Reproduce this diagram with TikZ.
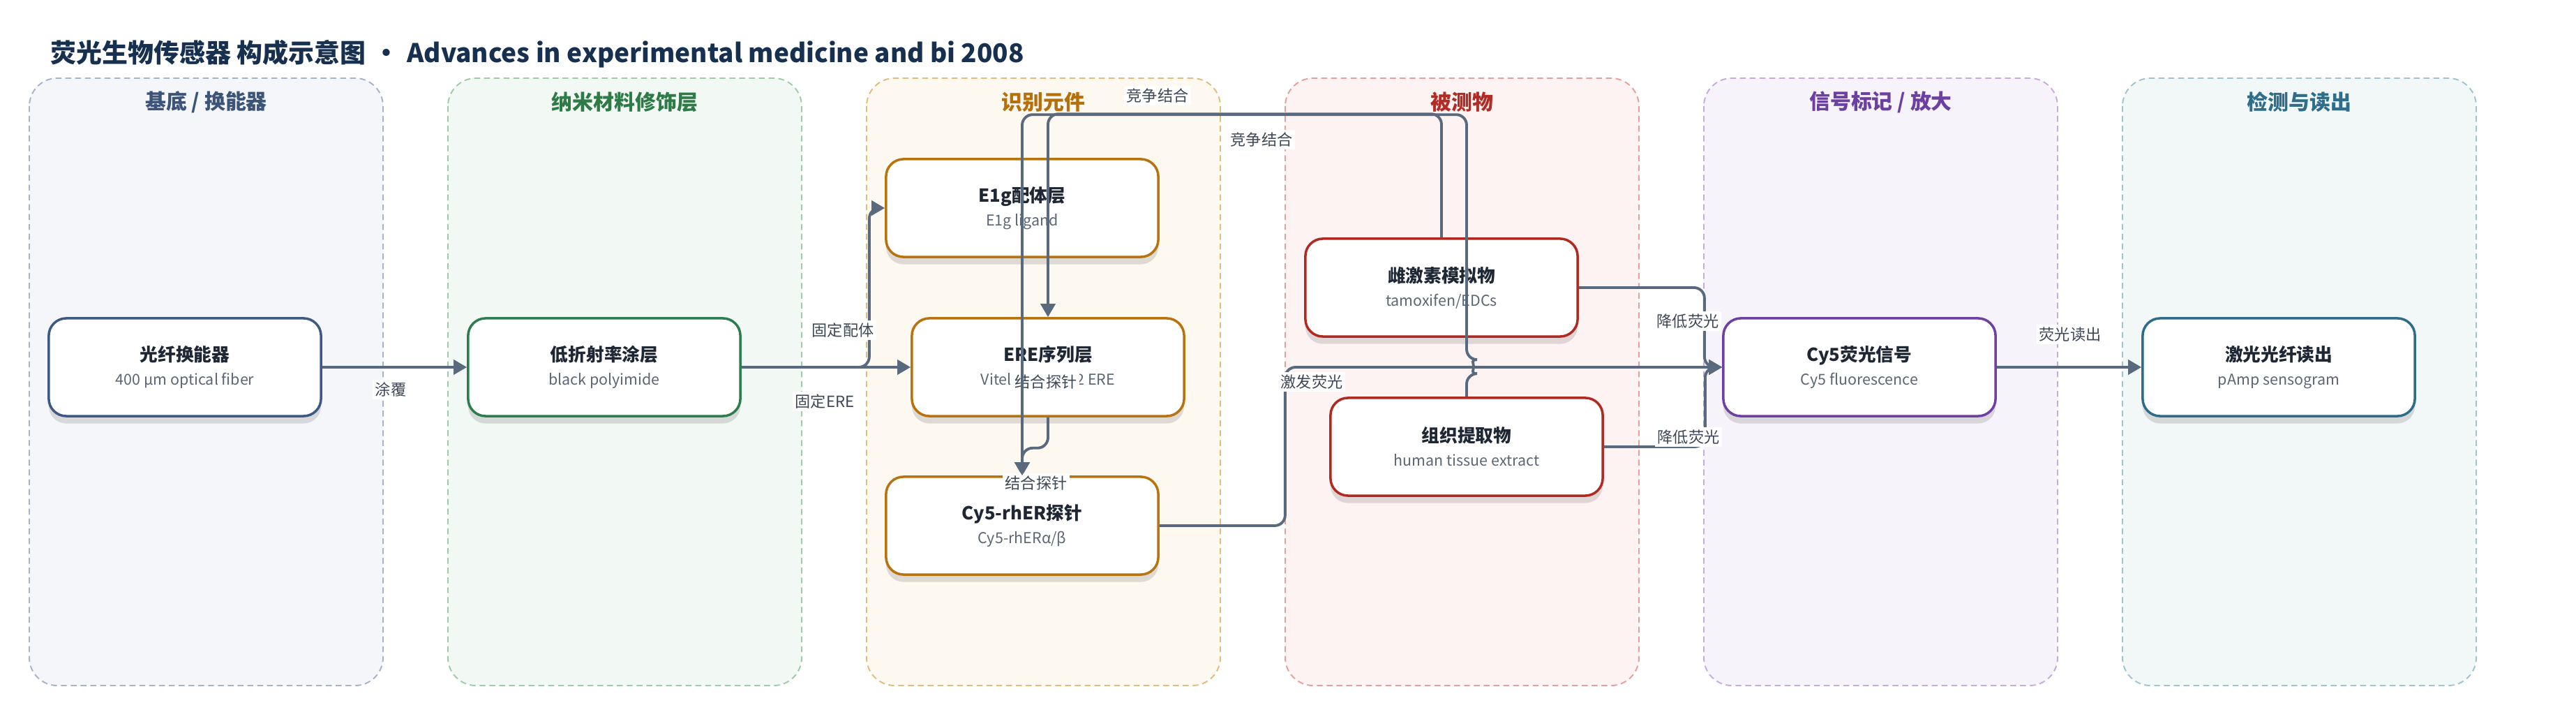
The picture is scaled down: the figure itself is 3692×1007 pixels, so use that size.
\documentclass[tikz,border=0pt]{standalone}
\usepackage{fontspec}
\setmainfont{Noto Sans CJK SC}
\usepackage{tikz}
\usetikzlibrary{arrows.meta,shadows,calc}

% Farben der Spalten
\definecolor{aBg}{HTML}{F4F6FA}\definecolor{aRand}{HTML}{A7B3C8}\definecolor{aTitel}{HTML}{3D5479}\definecolor{aKante}{HTML}{3E5A82}
\definecolor{bBg}{HTML}{F2F8F3}\definecolor{bRand}{HTML}{9FCBAA}\definecolor{bTitel}{HTML}{2E7B48}\definecolor{bKante}{HTML}{2E7D4F}
\definecolor{cBg}{HTML}{FDF8F0}\definecolor{cRand}{HTML}{E2BC7A}\definecolor{cTitel}{HTML}{B5700B}\definecolor{cKante}{HTML}{B7730F}
\definecolor{dBg}{HTML}{FDF3F2}\definecolor{dRand}{HTML}{E59F9C}\definecolor{dTitel}{HTML}{B22B25}\definecolor{dKante}{HTML}{B02A22}
\definecolor{eBg}{HTML}{F6F3FA}\definecolor{eRand}{HTML}{C6ACDD}\definecolor{eTitel}{HTML}{6B40A0}\definecolor{eKante}{HTML}{6D40A2}
\definecolor{fBg}{HTML}{F2F7F8}\definecolor{fRand}{HTML}{A2C3CD}\definecolor{fTitel}{HTML}{2F6E8A}\definecolor{fKante}{HTML}{2F6C88}
\definecolor{pfeil}{HTML}{5A6A7E}
\definecolor{lbltext}{HTML}{3E4756}
\definecolor{boxtext}{HTML}{1E2733}
\definecolor{subtext}{HTML}{5C6675}
\definecolor{haupttitel}{HTML}{17304F}

\tikzset{
	box/.style={rectangle, fill=white, rounded corners=0.25cm, line width=1pt,
		minimum width=3.9cm, minimum height=1.4cm, align=center, text=boxtext,
		font=\fontsize{7.3}{9.7}\selectfont,
		drop shadow={shadow xshift=0pt, shadow yshift=-3pt, opacity=0.12, fill=black}},
	conn/.style={draw=pfeil, line width=1.1pt, rounded corners=0.15cm,
		-{Triangle[length=0.19cm, width=0.21cm]}},
	lbl/.style={fill=white, inner sep=1pt, text=lbltext, font=\fontsize{6.3}{7}\selectfont},
}
\newcommand{\zweiz}[2]{{\bfseries #1}\\{\color{subtext}\fontsize{6.1}{9.7}\selectfont #2}}

\begin{document}
\begin{tikzpicture}[x=0.01cm, y=-0.01cm]
	\useasboundingbox (0,0) rectangle (3692,1007); % Rand
	
	\node[anchor=west, inner sep=0, text=haupttitel, font=\bfseries\fontsize{10.5}{13}\selectfont] (titel) at (72,77)
		{荧光生物传感器 构成示意图\hspace{0.3em}•\hspace{0.3em}Advances in experimental medicine and bi 2008};
	
	% Spalten
	\foreach \i/\col/\nm in {0/a/{基底 / 换能器}, 1/b/纳米材料修饰层, 2/c/识别元件, 3/d/被测物, 4/e/{信号标记 / 放大}, 5/f/检测与读出} {
		\draw[fill=\col Bg, draw=\col Rand, line width=0.55pt, dash pattern=on 2.4pt off 1.6pt, rounded corners=0.4cm]
			({42+600*\i},112) rectangle ++(507,870);
		\node[text=\col Titel, font=\bfseries\fontsize{8.5}{10}\selectfont] (spalte\i) at ({295.5+600*\i},146) {\nm};
	}
	
	% Kaesten
	\node[box, draw=aKante] (faser) at (265,526) {\zweiz{光纤换能器}{400 µm optical fiber}};
	\node[box, draw=bKante] (poly) at (866,526) {\zweiz{低折射率涂层}{black polyimide}};
	\node[box, draw=cKante] (e1g) at (1465,298) {\zweiz{E1g配体层}{E1g ligand}};
	\node[box, draw=cKante] (ere) at (1502,526) {\zweiz{ERE序列层}{Vitellogenin A2 ERE}};
	\node[box, draw=cKante] (sonde) at (1465,753) {\zweiz{Cy5-rhER探针}{Cy5-rhERα/β}};
	\node[box, draw=dKante] (oestro) at (2066,412) {\zweiz{雌激素模拟物}{tamoxifen/EDCs}};
	\node[box, draw=dKante] (gewebe) at (2102,640) {\zweiz{组织提取物}{human tissue extract}};
	\node[box, draw=eKante] (cysig) at (2665,526) {\zweiz{Cy5荧光信号}{Cy5 fluorescence}};
	\node[box, draw=fKante] (auslese) at (3266,526) {\zweiz{激光光纤读出}{pAmp sensogram}};
	
	% Verbindungen
	\draw[conn] (faser) -- (poly);
	\draw[conn] (poly.east) -- ++(183,0) |- (e1g.west);
	\draw[conn] (poly) -- (ere);
	\draw[conn] (oestro.north) -- ++(0,-177) -| (ere.north);
	\draw[conn] (ere.south) -- ++(0,44) -| (sonde.north);
	\draw[conn] (e1g) -- (sonde);
	\draw[conn] (sonde.east) -- ++(180,0) |- (cysig.west);
	\draw[conn] (oestro.east) -- ++(180,0) |- (cysig.west);
	\draw[conn] (gewebe.east) -- ++(145,0) |- (cysig.west);
	\draw[conn] (cysig) -- (auslese);
	
	% Beschriftungen
	\node[lbl] (lTufu) at (560,558) {涂覆};
	\node[lbl] (lPeiti) at (1208,473) {固定配体};
	\node[lbl] (lEre) at (1182,575) {固定ERE};
	\node[lbl] (lJing1) at (1659,137) {竞争结合};
	\node[lbl] (lJing2) at (1808,200) {竞争结合};
	\node[lbl] (lJie1) at (1499,547) {结合探针};
	\node[lbl] (lJie2) at (1485,692) {结合探针};
	\node[lbl] (lJifa) at (1880,547) {激发荧光};
	\node[lbl] (lJiang1) at (2419,460) {降低荧光};
	\node[lbl] (lJiang2) at (2420,626) {降低荧光};
	\node[lbl] (lDuchu) at (2967,479) {荧光读出};
	
	% Gewebe -> Sonde mit Bruecke
	\draw[conn] (gewebe.north) -- ++(0,-33) arc[start angle=90, end angle=-90, radius=10] -- ++(0,-351) -| (sonde.north);
\end{tikzpicture}
\end{document}
